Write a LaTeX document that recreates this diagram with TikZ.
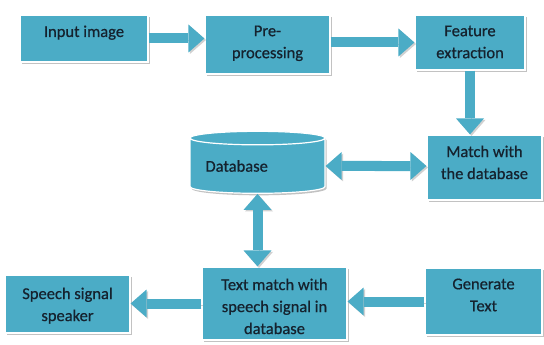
\documentclass[tikz,border=0pt]{standalone}
\usepackage{fontspec}
\setmainfont{Carlito}[FakeBold=0.6]
\usetikzlibrary{arrows.meta, positioning, shapes.geometric, shadows}
\definecolor{boxblue}{HTML}{4BACC6}
\definecolor{boxtext}{HTML}{15222E}

\begin{document}
\begin{tikzpicture}[x=1pt, y=-1pt,
  box/.style={rectangle, fill=boxblue, draw=white, line width=1.2pt, inner sep=0pt,
    drop shadow={shadow xshift=1.5pt, shadow yshift=-2pt, fill=black!40, opacity=0.6}},
  lbl/.style={anchor=north, align=center, inner sep=0pt, yshift=-11pt, text=boxtext,
    font=\fontsize{16.5}{22}\selectfont},
  dbase/.style={cylinder, shape border rotate=90, aspect=0.13, minimum width=135pt,
    minimum height=62pt, fill=boxblue, draw=white, line width=1.2pt, inner sep=0pt,
    text=boxtext, font=\fontsize{16.5}{22}\selectfont, text width=104pt, align=left,
    drop shadow={shadow xshift=1.5pt, shadow yshift=-2pt, fill=black!40, opacity=0.6}},
  fat/.style={draw=boxblue, line width=10pt, -{Triangle[length=16pt, width=28pt, line width=0pt]},
    preaction={draw=black!18, transform canvas={xshift=1.5pt, yshift=-1.5pt}}},
  fatboth/.style={fat, {Triangle[length=16pt, width=28pt, line width=0pt]}-{Triangle[length=16pt, width=28pt, line width=0pt]}}
]
\useasboundingbox (0,0) rectangle (544,345);

% boxes
\node[box, minimum width=128pt, minimum height=47pt, label={[lbl]north:Input image}] (inp) at (84,38.5) {};
\node[box, minimum width=125pt, minimum height=59pt, label={[lbl]north:Pre-\\processing}] (pre) at (267.5,44.5) {};
\node[box, minimum width=110pt, minimum height=55pt, label={[lbl]north:Feature\\extraction}] (feat) at (470,42.5) {};
\node[box, minimum width=115pt, minimum height=65pt, label={[lbl]north:Match with\\the database}] (match) at (484.5,167.5) {};
\node[dbase] (db) at (257.5,166) {Database};
\node[box, minimum width=117pt, minimum height=67pt, label={[lbl]north:Generate\\Text}] (gen) at (483.5,301.5) {};
\node[box, minimum width=145pt, minimum height=73pt, label={[lbl, yshift=-1pt]north:Text match with\\speech signal in\\database}] (txt) at (274.5,303.5) {};
\node[box, minimum width=125pt, minimum height=58pt, label={[lbl, yshift=-2pt]north:Speech signal\\speaker}] (spk) at (67.5,304) {};

% arrows
\draw[fat] (inp) -- (inp -| pre.west);
\draw[fat] (pre.east |- feat) -- (feat);
\draw[fat] (feat) -- (feat |- match.north);
\draw[fatboth] (db) -- (db -| match.west);
\draw[fatboth] (db) -- (db |- txt.north);
\draw[fat] (gen) -- (gen -| txt.east);
\draw[fat] (txt) -- (txt -| spk.east);

\end{tikzpicture}
\end{document}
